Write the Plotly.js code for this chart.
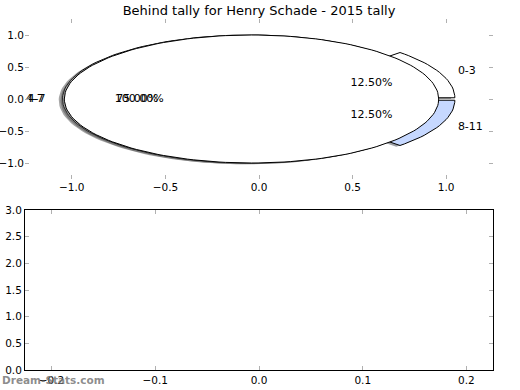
<!DOCTYPE html>
<html>
<head>
<meta charset="utf-8">
<script src="https://cdn.plot.ly/plotly-3.0.1.min.js"></script>
<style>html,body{margin:0;padding:0;background:#fff;}#chart{width:520px;height:390px;}</style>
</head>
<body>
<div id="chart"></div>
<script>
// ---- data ----
var titleText = "Behind tally for Henry Schade - 2015 tally";
var pie1Labels = ["0-3", "4-7", "8-11"];
var pie1Values = [1, 6, 1];
var pie1Colors = ["#ffffff", "#ffffff", "#c6d8ff"];
var pie1Explode = [0.05, 0.05, 0.05];
var pie2Labels = ["4-7"];
var pie2Values = [8];
var pie2Colors = ["#ffffff"];
var pie2Explode = [0.04];
var topTicks = [-1.0, -0.5, 0.0, 0.5, 1.0];
var bottomXTicks = [-0.2, -0.1, 0.0, 0.1, 0.2];
var bottomYTicks = [0.0, 0.5, 1.0, 1.5, 2.0, 2.5, 3.0];
var watermark = "Dream-Stats.com";

var traces = [];
var FONT = "DejaVu Sans, sans-serif";

function arcPts(cx, cy, r, t1, t2, full) {
  var xs = [], ys = [];
  var n = Math.max(8, Math.ceil((t2 - t1) / 2));
  if (!full) { xs.push(cx); ys.push(cy); }
  for (var i = 0; i <= n; i++) {
    var t = (t1 + (t2 - t1) * i / n) * Math.PI / 180;
    xs.push(cx + r * Math.cos(t)); ys.push(cy + r * Math.sin(t));
  }
  if (!full) { xs.push(cx); ys.push(cy); }
  return {x: xs, y: ys};
}

function shadeColor(hex) {
  var r = parseInt(hex.substr(1, 2), 16), g = parseInt(hex.substr(3, 2), 16), b = parseInt(hex.substr(5, 2), 16);
  return "rgba(" + Math.round(r * 0.3) + "," + Math.round(g * 0.3) + "," + Math.round(b * 0.3) + ",0.5)";
}

function addPie(labels, values, colors, explode) {
  var total = values.reduce(function (a, b) { return a + b; }, 0);
  var start = 0;
  var lab = {x: [], y: [], t: [], pos: []};
  var pct = {x: [], y: [], t: []};
  for (var i = 0; i < values.length; i++) {
    var frac = values[i] / total;
    var t1 = start, t2 = start + 360 * frac;
    var mid = (t1 + t2) / 2 * Math.PI / 180;
    var cx = explode[i] * Math.cos(mid), cy = explode[i] * Math.sin(mid);
    var full = frac >= 0.9999;
    var sh = arcPts(cx - 0.02, cy - 0.02, 1, t1, t2, full);
    traces.push({x: sh.x, y: sh.y, mode: "lines", fill: "toself", fillcolor: shadeColor(colors[i]),
      line: {width: 0, color: "rgba(0,0,0,0)"}, hoverinfo: "skip", showlegend: false, xaxis: "x", yaxis: "y"});
    var w = arcPts(cx, cy, 1, t1, t2, full);
    traces.push({x: w.x, y: w.y, mode: "lines", fill: "toself", fillcolor: colors[i],
      line: {width: 1, color: "#000000"}, hoverinfo: "skip", showlegend: false, xaxis: "x", yaxis: "y"});
    var lx = cx + 1.1 * Math.cos(mid), ly = cy + 1.1 * Math.sin(mid);
    lab.x.push(lx); lab.y.push(ly); lab.t.push(labels[i]);
    lab.pos.push(lx >= 0 ? "middle right" : "middle left");
    pct.x.push(cx + 0.6 * Math.cos(mid)); pct.y.push(cy + 0.6 * Math.sin(mid));
    pct.t.push((frac * 100).toFixed(2) + "%");
    start = t2;
  }
  return {lab: lab, pct: pct};
}

var texts = [];
texts.push(addPie(pie1Labels, pie1Values, pie1Colors, pie1Explode));
texts.push(addPie(pie2Labels, pie2Values, pie2Colors, pie2Explode));
texts.forEach(function (tt) {
  traces.push({x: tt.lab.x, y: tt.lab.y, text: tt.lab.t, mode: "text", textposition: tt.lab.pos,
    textfont: {family: FONT, size: 11, color: "#000"}, hoverinfo: "skip", showlegend: false, xaxis: "x", yaxis: "y", cliponaxis: false});
  traces.push({x: tt.pct.x, y: tt.pct.y, text: tt.pct.t, mode: "text", textposition: "middle center",
    textfont: {family: FONT, size: 11, color: "#000"}, hoverinfo: "skip", showlegend: false, xaxis: "x", yaxis: "y", cliponaxis: false});
});

// empty bottom axes
traces.push({x: [], y: [], type: "scatter", mode: "markers", xaxis: "x2", yaxis: "y2", showlegend: false});

var tickCommon = {
  showgrid: false, zeroline: false, ticks: "inside", ticklen: 4, tickwidth: 1, tickcolor: "#b0b0b0",
  tickfont: {family: FONT, size: 10.5, color: "#000"}, tickformat: ".1f", fixedrange: true
};
function ax(extra) { return Object.assign({}, tickCommon, extra); }

var layout = {
  width: 520, height: 390,
  margin: {l: 0, r: 0, t: 0, b: 0},
  paper_bgcolor: "#ffffff", plot_bgcolor: "#ffffff",
  showlegend: false,
  title: {text: titleText, font: {family: FONT, size: 13, color: "#000"}, x: 259 / 520, xanchor: "center",
    xref: "paper", y: 1 - 10 / 390, yanchor: "middle", yref: "container"},
  xaxis: ax({domain: [25 / 520, 493 / 520], range: [-1.25, 1.25], tickvals: topTicks, anchor: "y", showline: false, mirror: "ticks"}),
  yaxis: ax({domain: [1 - 179 / 390, 1 - 19 / 390], range: [-1.25, 1.25], tickvals: topTicks, anchor: "x", showline: false, mirror: "ticks"}),
  xaxis2: ax({domain: [25 / 520, 493 / 520], range: [-0.2256, 0.2256], tickvals: bottomXTicks, anchor: "y2",
    showline: true, linecolor: "#000", linewidth: 1, mirror: "ticks"}),
  yaxis2: ax({domain: [1 - 370 / 390, 1 - 210 / 390], range: [0, 3], tickvals: bottomYTicks, anchor: "x2",
    showline: true, linecolor: "#000", linewidth: 1, mirror: "ticks"}),
  annotations: [{text: "<b>" + watermark + "</b>", xref: "paper", yref: "paper", x: 0, y: 1 - 380 / 390, xanchor: "left", yanchor: "middle",
    showarrow: false, font: {family: FONT, size: 10.5, color: "rgba(120,120,120,0.85)"}}]
};

Plotly.newPlot("chart", traces, layout, {displayModeBar: false, staticPlot: true});
</script>
</body>
</html>
